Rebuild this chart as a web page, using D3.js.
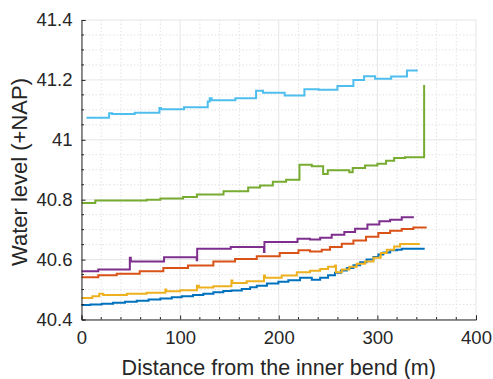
<!DOCTYPE html>
<html><head><meta charset="utf-8">
<script src="https://cdn.jsdelivr.net/npm/d3@7"></script>
<style>body{margin:0;background:#fff}svg{display:block}text{font-family:"Liberation Sans",Arial,sans-serif;fill:#262626}</style>
</head><body>
<svg id="c" width="493" height="379"></svg>
<script>
const xTicks=[0,100,200,300,400];
const yTicks=[40.4,40.6,40.8,41,41.2,41.4];
const yTickLabels=["40.4","40.6","40.8","41","41.2","41.4"];
const xLabel="Distance from the inner bend (m)";
const yLabel="Water level (+NAP)";

const blueX=[0,9,20.5,32,44,56,68,80,91.5,101.6,113,123.5,133.7,143.8,152,162.5,171,177.7,188,199.6,209.7,221.6,233.5,242,250,257,263,269,275.7,282.5,289,296,301,306,313,319.7,324.7,348];
const blueY=[40.448,40.45,40.453,40.456,40.459,40.463,40.467,40.47,40.474,40.478,40.482,40.486,40.491,40.495,40.497,40.502,40.508,40.513,40.52,40.526,40.531,40.539,40.533,40.539,40.548,40.556,40.564,40.572,40.581,40.591,40.6,40.609,40.617,40.624,40.631,40.633,40.636,40.636];
const orangeX=[0,17,35.7,59,83,108,133.7,155.7,177.7,201,220,231.7,243.6,252,263.9,275.7,288.5,301,312.9,324.7,336.5,350];
const orangeY=[40.541,40.548,40.553,40.561,40.572,40.58,40.594,40.602,40.611,40.622,40.631,40.627,40.633,40.642,40.653,40.664,40.676,40.689,40.696,40.702,40.707,40.707];
const yellowX=[0,11,18,22,46,66,85,86,100,117,119,133.7,152,153,167.5,185,186,203,218.3,231.7,242,250,257,258,264,271.6,279,287.5,296,303.4,309.5,317,323,343];
const yellowY=[40.472,40.478,40.486,40.482,40.486,40.489,40.5,40.494,40.498,40.513,40.507,40.511,40.53,40.522,40.528,40.547,40.539,40.547,40.558,40.563,40.569,40.576,40.58,40.558,40.567,40.576,40.586,40.594,40.606,40.622,40.633,40.644,40.652,40.652];
const purpleX=[0,17,49,50,83.7,116.8,117.3,151.3,185,185.5,219,231.7,242,253.7,266.5,277.4,289.9,302,312.9,324.7,337];
const purpleY=[40.561,40.567,40.606,40.594,40.608,40.598,40.636,40.642,40.625,40.659,40.67,40.667,40.673,40.683,40.692,40.703,40.717,40.728,40.733,40.741,40.741];
const greenX=[0,14,66,80,103,117,144,169,181,194,207.4,221,233.5,245,249.7,271.6,275,287.5,300,308.8,317,328,347.4,347.4];
const greenY=[40.789,40.797,40.8,40.804,40.809,40.817,40.828,40.841,40.847,40.86,40.867,40.917,40.912,40.886,40.898,40.892,40.906,40.914,40.92,40.93,40.939,40.942,41.183,41.183];
const lightBlueX=[5,28,31,54,79,80.5,104,128,130,132,156,177,184,206,226,240.5,259.5,275.7,286.5,297.7,314,330,341];
const lightBlueY=[41.074,41.089,41.086,41.09,41.106,41.102,41.109,41.128,41.139,41.132,41.139,41.164,41.157,41.148,41.169,41.167,41.18,41.2,41.212,41.204,41.211,41.231,41.231];

const series=[
 {x:blueX,y:blueY,c:"#0072BD"},
 {x:orangeX,y:orangeY,c:"#D95319"},
 {x:yellowX,y:yellowY,c:"#EDB120"},
 {x:purpleX,y:purpleY,c:"#7E2F8E"},
 {x:greenX,y:greenY,c:"#77AC30"},
 {x:lightBlueX,y:lightBlueY,c:"#4DBEEE"}
];

const L=81.5,R=476,T=20,B=319.5;
const x=d3.scaleLinear().domain([0,400]).range([L,R]);
const y=d3.scaleLinear().domain([40.4,41.4]).range([B,T]);
const svg=d3.select("#c");
const g=svg.append("g");

// minor grid
const xMinor=d3.range(0,401,20).filter(v=>v%100!==0);
const yMinor=d3.range(0,21).map(i=>40.4+i*0.05).filter((v,i)=>i%4!==0);
g.selectAll(".mx").data(xMinor).enter().append("line")
 .attr("x1",d=>x(d)).attr("x2",d=>x(d)).attr("y1",T).attr("y2",B)
 .attr("stroke","#e3e3e3").attr("stroke-width",1).attr("stroke-dasharray","1.5,2");
g.selectAll(".my").data(yMinor).enter().append("line")
 .attr("y1",d=>y(d)).attr("y2",d=>y(d)).attr("x1",L).attr("x2",R)
 .attr("stroke","#e3e3e3").attr("stroke-width",1).attr("stroke-dasharray","1.5,2");
// major grid
g.selectAll(".gx").data(xTicks).enter().append("line")
 .attr("x1",d=>x(d)).attr("x2",d=>x(d)).attr("y1",T).attr("y2",B)
 .attr("stroke","#e6e6e6").attr("stroke-width",1);
g.selectAll(".gy").data(yTicks).enter().append("line")
 .attr("y1",d=>y(d)).attr("y2",d=>y(d)).attr("x1",L).attr("x2",R)
 .attr("stroke","#e6e6e6").attr("stroke-width",1);

// lines
const line=d3.line().x((d)=>x(d[0])).y(d=>y(d[1])).curve(d3.curveStepAfter);
series.forEach(s=>{
 const pts=s.x.map((v,i)=>[v,s.y[i]]);
 g.append("path").attr("d",line(pts)).attr("fill","none")
  .attr("stroke",s.c).attr("stroke-width",2).attr("stroke-linejoin","miter");
});

// axes
const xAxis=d3.axisBottom(x).tickValues(xTicks).tickSize(-4).tickPadding(11).tickFormat(d3.format("d"));
const yAxis=d3.axisLeft(y).tickValues(yTicks).tickSize(-4).tickPadding(9).tickFormat((d,i)=>yTickLabels[i]);
const gx=svg.append("g").attr("transform",`translate(0,${B})`).call(xAxis);
const gy=svg.append("g").attr("transform",`translate(${L},0)`).call(yAxis);
[gx,gy].forEach(a=>{
 a.select(".domain").attr("stroke","#262626").attr("stroke-width",1);
 a.selectAll(".tick line").attr("stroke","#262626");
 a.selectAll("text").attr("fill","#262626").style("font-size","18.5px").style("font-family","'Liberation Sans',Arial,sans-serif");
});
// minor ticks
svg.selectAll(".mtx").data(xMinor).enter().append("line")
 .attr("x1",d=>x(d)).attr("x2",d=>x(d)).attr("y1",B).attr("y2",B-2.5).attr("stroke","#262626");
svg.selectAll(".mty").data(yMinor).enter().append("line")
 .attr("y1",d=>y(d)).attr("y2",d=>y(d)).attr("x1",L).attr("x2",L+2.5).attr("stroke","#262626");

svg.append("text").attr("x",(L+R)/2).attr("y",375).attr("text-anchor","middle")
 .style("font-size","21.5px").text(xLabel);
svg.append("text").attr("transform",`translate(27,172) rotate(-90)`).attr("text-anchor","middle")
 .style("font-size","22px").text(yLabel);
</script>
</body></html>
